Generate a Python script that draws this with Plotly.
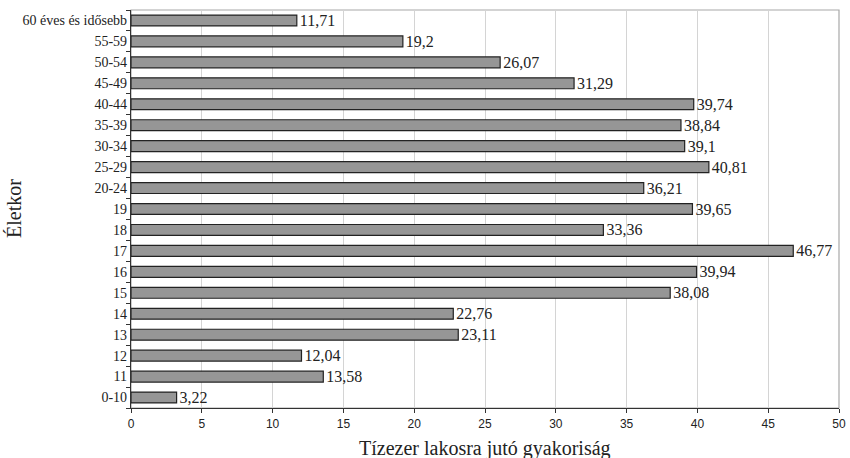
import plotly.graph_objects as go

categories = ["0-10", "11", "12", "13", "14", "15", "16", "17", "18", "19",
              "20-24", "25-29", "30-34", "35-39", "40-44", "45-49", "50-54",
              "55-59", "60 éves és idősebb"]
values = [3.22, 13.58, 12.04, 23.11, 22.76, 38.08, 39.94, 46.77, 33.36, 39.65,
          36.21, 40.81, 39.1, 38.84, 39.74, 31.29, 26.07, 19.2, 11.71]
labels = [str(v).replace(".", ",") for v in values]
x_ticks = list(range(0, 51, 5))

serif = "Liberation Serif, Times New Roman, serif"
sans = "Liberation Sans, Arial, sans-serif"

fig = go.Figure(go.Bar(
    y=categories, x=values, orientation="h",
    marker=dict(color="#969696", line=dict(color="#222222", width=1.2)),
    text=labels, textposition="outside", cliponaxis=False, constraintext="none",
    textfont=dict(family=serif, size=16, color="#222222"),
    hoverinfo="skip",
))

fig.update_layout(
    width=850, height=458,
    margin=dict(l=131, r=11, t=10, b=50),
    paper_bgcolor="white", plot_bgcolor="white",
    bargap=0.48, showlegend=False,
    shapes=[dict(type="rect", xref="paper", yref="paper", x0=0, x1=1, y0=0, y1=1,
                 line=dict(color="#a8a8a8", width=1.2), layer="below")],
    annotations=[
        dict(text="Tízezer lakosra jutó gyakoriság", xref="paper", yref="paper",
             x=0.5, y=0, yshift=-40, xanchor="center", yanchor="middle",
             showarrow=False, font=dict(family=serif, size=20, color="#222222")),
        dict(text="Életkor", xref="paper", yref="paper", x=0, xshift=-117,
             y=0.5, xanchor="center", yanchor="middle", textangle=-90,
             showarrow=False, font=dict(family=serif, size=20, color="#222222")),
    ],
)
fig.update_xaxes(
    range=[0, 50], tickvals=x_ticks, ticktext=[str(t) for t in x_ticks],
    showgrid=True, gridcolor="#d4d4d4", gridwidth=1,
    showline=True, linecolor="#333333", linewidth=1.2,
    ticks="outside", ticklen=4, tickcolor="#333333",
    tickfont=dict(family=sans, size=12, color="#222222"),
    zeroline=False, automargin=False,
)
fig.update_yaxes(
    categoryorder="array", categoryarray=categories,
    showline=True, linecolor="#333333", linewidth=1.2,
    ticks="outside", ticklen=4, tickcolor="#333333", tickson="boundaries",
    tickfont=dict(family=serif, size=14, color="#222222"),
    showgrid=False, automargin=False,
)

fig.write_html(
    "out.html",
    config={"displayModeBar": False},
    post_script="document.body.style.margin='0';document.body.style.overflow='hidden';",
)
